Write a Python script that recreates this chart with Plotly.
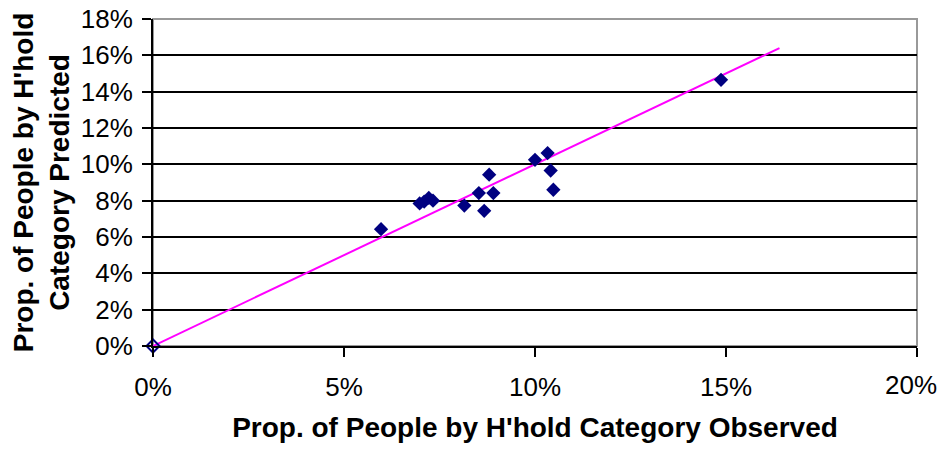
import plotly.graph_objects as go

# observed vs predicted proportion of people by household category
observed = [0.0597, 0.0698, 0.0710, 0.0722, 0.0733, 0.0815, 0.0853, 0.0867,
            0.0880, 0.0891, 0.1000, 0.1033, 0.1041, 0.1048, 0.1487]
predicted = [0.0643, 0.0785, 0.0795, 0.0815, 0.0800, 0.0773, 0.0842, 0.0744,
             0.0943, 0.0842, 0.1025, 0.1062, 0.0966, 0.0860, 0.1465]

origin_x = [0.0]
origin_y = [0.0]

# y = x reference line
line_x = [0.0, 0.164]
line_y = [0.0, 0.164]

# x tick labels; the last one is drawn as an annotation so it is not clipped
x_tick_vals = [0.0, 0.05, 0.10, 0.15, 0.20]
x_tick_text = ["0%", "5%", "10%", "15%", ""]
last_x_label = "20%"

fig = go.Figure()
fig.add_trace(go.Scatter(x=line_x, y=line_y, mode="lines",
                         line=dict(color="#FF00FF", width=2),
                         hoverinfo="skip"))
fig.add_trace(go.Scatter(x=origin_x, y=origin_y, mode="markers",
                         marker=dict(symbol="diamond-open", size=10, color="#000080",
                                     line=dict(width=2)),
                         cliponaxis=False))
fig.add_trace(go.Scatter(x=observed, y=predicted, mode="markers",
                         marker=dict(symbol="diamond", size=11, color="#000080")))

font = "Liberation Sans, Arial, sans-serif"

# the page body keeps its 8px margin, so the figure is 16px smaller than the window
fig.update_layout(
    width=932, height=435,
    margin=dict(l=145, r=23, t=11, b=97),
    paper_bgcolor="white", plot_bgcolor="white",
    showlegend=False,
    font=dict(family=font, color="black"),
    shapes=[dict(type="rect", xref="paper", yref="paper", x0=0, y0=0, x1=1, y1=1,
                 line=dict(color="#999999", width=2), layer="below")],
    annotations=[dict(text=last_x_label, x=x_tick_vals[-1], xref="x", y=0, yref="paper",
                      xanchor="right", yanchor="middle", xshift=22, yshift=-39,
                      showarrow=False, font=dict(size=26))],
)
fig.update_xaxes(
    range=[0, 0.2], tickvals=x_tick_vals, ticktext=x_tick_text,
    showgrid=False, zeroline=False,
    showline=True, linecolor="black", linewidth=2, automargin=False,
    ticks="outside", ticklen=9, tickwidth=2, tickcolor="black",
    ticklabelstandoff=8, tickfont=dict(size=26), ticklabeloverflow="allow",
    title=dict(text="<b>Prop. of People by H'hold Category Observed</b>",
               font=dict(size=28), standoff=19),
)
fig.update_yaxes(
    range=[0, 0.18], dtick=0.02, tickformat=".0%", showgrid=True,
    gridcolor="black", gridwidth=1.6, zeroline=False,
    showline=True, linecolor="black", linewidth=2, automargin=False,
    ticks="outside", ticklen=9, tickwidth=2, tickcolor="black",
    ticklabelstandoff=4, tickfont=dict(size=26), ticklabeloverflow="allow",
    title=dict(text="<b>Prop. of People by H'hold<br>Category Predicted</b>",
               font=dict(size=28), standoff=10),
)

fig.write_html("out.html")
